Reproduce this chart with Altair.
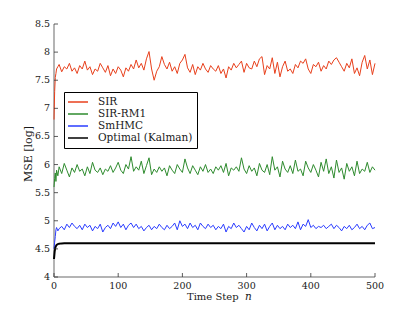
import altair as alt
import pandas as pd

# time steps for the noisy series
steps = [0, 1, 2, 3, 4, 6] + list(range(8, 501, 4))

sir = [6.80, 7.30, 7.55, 7.62, 7.70, 7.74,
       7.78, 7.65, 7.74, 7.70, 7.80, 7.66, 7.72, 7.62, 7.76, 7.70,
       7.84, 7.68, 7.74, 7.60, 7.70, 7.66, 7.80, 7.72, 7.64, 7.76,
       7.58, 7.70, 7.62, 7.74, 7.68, 7.56, 7.72, 7.66, 7.78, 7.70,
       7.86, 7.72, 7.80, 7.68, 7.88, 8.01, 7.70, 7.50, 7.66, 7.74,
       7.92, 7.78, 7.70, 7.82, 7.66, 7.74, 7.62, 7.80, 7.86, 7.96,
       7.72, 7.64, 7.78, 7.60, 7.74, 7.68, 7.80, 7.70, 7.64, 7.76,
       7.70, 7.66, 7.76, 7.62, 7.70, 7.54, 7.74, 7.68, 7.80, 7.72,
       7.78, 7.84, 7.64, 7.80, 7.72, 7.70, 7.84, 7.74, 7.88, 7.92,
       7.60, 7.76, 7.70, 7.90, 7.62, 7.82, 7.56, 7.74, 7.84, 7.66,
       7.70, 7.62, 7.78, 7.72, 7.84, 7.80, 7.88, 7.70, 7.62, 7.78,
       7.74, 7.82, 7.66, 7.76, 7.70, 7.84, 7.78, 7.86, 7.90, 7.82,
       7.74, 7.66, 7.80, 7.72, 7.88, 7.62, 7.72, 7.58, 7.82, 7.94,
       7.70, 7.86, 7.60, 7.80]

sir_rm1 = [5.60, 5.75, 5.85, 5.70, 5.90, 5.80,
           5.96, 5.84, 6.02, 5.90, 5.78, 5.94, 5.86, 6.00, 5.88, 5.92,
           5.80, 5.96, 5.84, 6.04, 5.90, 5.86, 5.94, 5.82, 5.92, 5.88,
           5.98, 5.86, 5.94, 6.04, 5.90, 5.84, 6.00, 5.92, 6.14, 5.88,
           5.96, 5.90, 6.06, 5.84, 5.98, 6.12, 5.82, 5.92, 5.86, 5.96,
           5.88, 5.94, 5.80, 5.98, 5.90, 5.84, 6.00, 5.92, 5.86, 6.10,
           5.94, 5.84, 5.98, 5.90, 5.82, 5.96, 5.88, 6.00, 5.86, 5.92,
           5.84, 5.96, 5.90, 5.98, 5.86, 6.02, 5.80, 5.94, 5.90, 5.96,
           5.88, 6.12, 5.92, 5.84, 5.98, 5.88, 5.94, 5.80, 6.02, 5.90,
           5.86, 6.00, 5.82, 6.14, 5.90, 5.96, 5.78, 6.06, 5.92, 5.86,
           5.98, 5.84, 6.08, 5.88, 5.92, 5.80, 6.06, 5.94, 5.86, 6.00,
           5.90, 5.78, 6.04, 5.88, 6.10, 5.84, 5.96, 5.76, 6.08, 5.86,
           5.94, 5.74, 6.02, 5.88, 5.96, 5.80, 6.06, 5.84, 5.92, 5.88,
           6.04, 5.86, 5.96, 5.90]

smhmc = [4.50, 4.62, 4.72, 4.84, 4.88, 4.82,
         4.86, 4.90, 4.84, 4.94, 4.88, 4.96, 4.90, 4.86, 4.92, 4.84,
         4.94, 4.88, 4.92, 4.82, 4.90, 4.86, 4.94, 4.80, 4.88, 4.92,
         4.86, 4.96, 4.90, 4.98, 4.88, 4.94, 4.84, 4.92, 4.96, 4.88,
         4.94, 4.86, 4.90, 4.82, 4.88, 4.92, 4.84, 4.90, 4.86, 4.94,
         4.88, 4.84, 4.92, 4.86, 4.90, 4.96, 4.84, 5.00, 4.90, 4.94,
         4.86, 4.96, 4.88, 4.92, 4.84, 4.96, 4.90, 4.86, 4.94, 4.88,
         4.92, 4.84, 4.90, 4.86, 4.94, 4.80, 4.90, 4.86, 4.96, 4.88,
         4.92, 4.86, 4.80, 4.90, 4.84, 4.96, 4.88, 4.82, 4.92, 4.86,
         4.94, 4.82, 4.90, 4.96, 4.84, 4.92, 4.86, 4.90, 4.84, 4.94,
         4.88, 4.92, 4.86, 4.98, 4.84, 4.94, 4.90, 5.02, 4.88, 4.92,
         4.86, 4.90, 4.88, 4.92, 4.86, 4.90, 4.94, 4.86, 4.92, 4.88,
         4.82, 4.90, 4.86, 4.92, 4.84, 4.88, 4.94, 4.86, 4.90, 4.84,
         4.92, 4.96, 4.86, 4.88]

kalman_steps = [0, 1, 2, 3, 4, 6, 8, 12, 16, 20, 500]
kalman = [4.32, 4.45, 4.52, 4.55, 4.57, 4.585, 4.593, 4.598, 4.60, 4.60, 4.60]

series_names = ["SIR", "SIR-RM1", "SmHMC", "Optimal (Kalman)"]
series_colors = ["#e8401c", "#2e8b2e", "#2a3cff", "#000000"]

y_ticks = [4, 4.5, 5, 5.5, 6, 6.5, 7, 7.5, 8, 8.5]
y_tick_labels = ["4", "4.5", "5", "5.5", "6", "6.5", "7", "7.5", "8", "8.5"]
x_ticks = [0, 100, 200, 300, 400, 500]
x_tick_labels = ["0", "100", "200", "300", "400", "500"]

x_title = "Time Step"
x_title_var = "n"
y_title = "MSE [log]"

rows = []
for name, vals in [("SIR", sir), ("SIR-RM1", sir_rm1), ("SmHMC", smhmc)]:
    for s, v in zip(steps, vals):
        rows.append({"step": s, "mse": v, "series": name})
for s, v in zip(kalman_steps, kalman):
    rows.append({"step": s, "mse": v, "series": "Optimal (Kalman)"})
df = pd.DataFrame(rows)

W, H = 321, 253
FONT = "DejaVu Serif"
AXIS_GREY = "#b4b4b4"
TEXT = "#1a1a1a"

xscale = alt.Scale(domain=[0, 500], nice=False)
yscale = alt.Scale(domain=[4, 8.5], nice=False)

one = pd.DataFrame({"a": [0]})

# axis lines
left_domain = alt.Chart(one).mark_rule(color=AXIS_GREY, strokeWidth=2).encode(
    x=alt.value(0), y=alt.value(0), y2=alt.value(H))
bottom_domain = alt.Chart(one).mark_rule(color=AXIS_GREY, strokeWidth=2).encode(
    x=alt.value(0), x2=alt.value(W), y=alt.value(H))

lines = alt.Chart(df).mark_line().encode(
    x=alt.X("step:Q", scale=xscale, axis=None),
    y=alt.Y("mse:Q", scale=yscale, axis=None),
    color=alt.Color("series:N",
                    scale=alt.Scale(domain=series_names, range=series_colors),
                    legend=alt.Legend(title=None, orient="none", legendX=10, legendY=68,
                                      symbolType="M-2,0H2", symbolSize=100,
                                      symbolStrokeWidth=1.5, symbolOffset=4,
                                      labelOffset=14,
                                      strokeColor="#000000", fillColor="#ffffff",
                                      padding=4, labelFont=FONT, labelFontSize=10.5,
                                      labelColor=TEXT, rowPadding=0)),
    strokeWidth=alt.when(alt.datum.series == "Optimal (Kalman)")
                   .then(alt.value(2)).otherwise(alt.value(1)),
    order=alt.Order("step:Q"),
)

ytick_df = pd.DataFrame({"v": y_ticks, "lab": y_tick_labels})
xtick_df = pd.DataFrame({"v": x_ticks, "lab": x_tick_labels})

yticks = alt.Chart(ytick_df).mark_rule(color="#333333", strokeWidth=0.8).encode(
    y=alt.Y("v:Q", scale=yscale, axis=None),
    x=alt.value(0), x2=alt.value(4),
)
xticks = alt.Chart(xtick_df).mark_rule(color="#333333", strokeWidth=0.8).encode(
    x=alt.X("v:Q", scale=xscale, axis=None),
    y=alt.value(H), y2=alt.value(H - 4),
)
ylabels = alt.Chart(ytick_df).mark_text(
    align="right", baseline="middle", dx=-4, font=FONT, fontSize=9.5, color=TEXT
).encode(y=alt.Y("v:Q", scale=yscale, axis=None), x=alt.value(0), text="lab:N")
xlabels = alt.Chart(xtick_df).mark_text(
    align="center", baseline="top", dy=4, font=FONT, fontSize=9.5, color=TEXT
).encode(x=alt.X("v:Q", scale=xscale, axis=None), y=alt.value(H), text="lab:N")

ytitle = alt.Chart(one).mark_text(
    angle=270, align="center", baseline="middle", font=FONT, fontSize=11, color=TEXT
).encode(x=alt.value(-25.5), y=alt.value(130), text=alt.value(y_title))
xtitle = alt.Chart(one).mark_text(
    align="left", baseline="alphabetic", font=FONT, fontSize=10, color=TEXT
).encode(x=alt.value(133), y=alt.value(H + 22.5), text=alt.value(x_title))
xtitle_n = alt.Chart(one).mark_text(
    align="left", baseline="alphabetic", font=FONT, fontSize=10.5, fontStyle="italic",
    color=TEXT
).encode(x=alt.value(191), y=alt.value(H + 22.5), text=alt.value(x_title_var))

chart = alt.layer(left_domain, bottom_domain, lines, yticks, xticks,
                  ylabels, xlabels, ytitle, xtitle, xtitle_n).properties(
    width=W, height=H,
    autosize=alt.AutoSizeParams(type="none"),
    padding={"left": 46, "top": 16, "right": 24, "bottom": 28},
).configure_view(stroke=None)

chart.save("out.html", embed_options={"renderer": "svg", "actions": False})
